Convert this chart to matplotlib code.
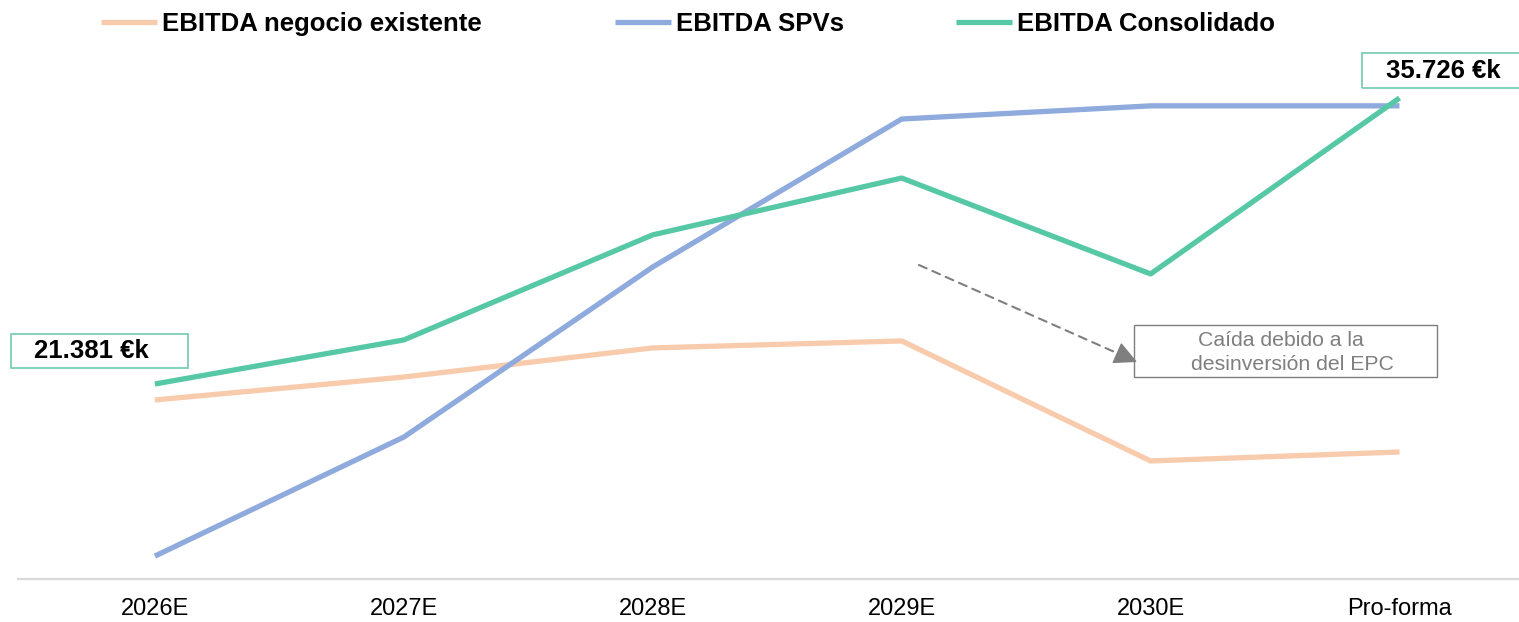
import matplotlib
matplotlib.use("Agg")
import matplotlib.pyplot as plt
from matplotlib.patches import Rectangle

plt.rcParams['font.family'] = ['Liberation Sans', 'DejaVu Sans']

# datos (miles de €)
categorias = ["2026E", "2027E", "2028E", "2029E", "2030E", "Pro-forma"]
existente = [20580, 21730, 23190, 23540, 17520, 17970]
spvs = [12750, 18720, 27250, 34670, 35330, 35330]
consolidado = [21381, 23590, 28860, 31710, 26900, 35726]
series = ["EBITDA negocio existente", "EBITDA SPVs", "EBITDA Consolidado"]
colores = ["#F8CBAD", "#8FAADC", "#56C8A6"]
etiqueta_ini = "21.381 €k"
etiqueta_fin = "35.726 €k"
nota = ["Caída debido a la", "desinversión del EPC"]

W, H = 1519, 622
fig = plt.figure(figsize=(W / 100, H / 100), dpi=100)
ax = fig.add_axes([18 / W, 43 / H, 1 - 18 / W, (579 - 60) / H])

x = range(len(categorias))
lineas = []
for vals, nombre, c in zip([existente, spvs, consolidado], series, colores):
    l, = ax.plot(x, vals, color=c, linewidth=3.8, label=nombre, solid_capstyle='butt')
    lineas.append(l)

ax.set_xlim(-0.55, 5.48)
ax.set_ylim(11600, 37630)
ax.set_xticks(list(x))
ax.set_xticklabels(categorias, fontsize=17)
ax.tick_params(axis='x', length=0, pad=14)
ax.set_yticks([])
for s in ['top', 'right', 'left']:
    ax.spines[s].set_visible(False)
ax.spines['bottom'].set_color('#D9D9D9')
ax.spines['bottom'].set_linewidth(1.6)

# leyenda: una entrada por posición
for l, x0 in zip(lineas, [101, 615, 956]):
    fig.legend(handles=[l], loc='center left', bbox_to_anchor=(x0 / W, 1 - 24 / H), frameon=False,
               prop={'weight': 'bold', 'size': 18.5}, handlelength=2.18, handletextpad=0.2,
               borderpad=0, borderaxespad=0)

# cajas de valores
fig.patches.append(Rectangle((11 / W, 1 - 368 / H), 177 / W, 34 / H, transform=fig.transFigure,
                             fill=False, edgecolor='#7DCDB9', linewidth=1.3))
fig.text(91 / W, 1 - 351 / H, etiqueta_ini, ha='center', va='center', fontsize=18.5, fontweight='bold')
fig.patches.append(Rectangle((1362 / W, 1 - 88 / H), 160 / W, 35 / H, transform=fig.transFigure,
                             fill=False, edgecolor='#7DCDB9', linewidth=1.3))
fig.text(1443 / W, 1 - 71 / H, etiqueta_fin, ha='center', va='center', fontsize=18.5, fontweight='bold')

# nota con flecha
fig.patches.append(Rectangle((1134 / W, 1 - 377 / H), 303 / W, 52 / H, transform=fig.transFigure,
                             fill=False, edgecolor='#7F7F7F', linewidth=1.0))
fig.text(1281 / W, 1 - 340 / H, nota[0], ha='center', va='center', fontsize=15.3, color='#7F7F7F')
fig.text(1292 / W, 1 - 364 / H, nota[1], ha='center', va='center', fontsize=15.3, color='#7F7F7F')

p0, p1 = (919, H - 265), (1137, H - 362)
dx, dy = p1[0] - p0[0], p1[1] - p0[1]
pm = (p1[0] - dx * 0.08, p1[1] - dy * 0.08)
ax.annotate('', xy=pm, xytext=p0, xycoords='figure pixels', textcoords='figure pixels',
            arrowprops=dict(arrowstyle='-', linestyle=(0, (4, 3)), color='#7F7F7F', lw=1.5,
                            shrinkA=0, shrinkB=0))
ax.annotate('', xy=p1, xytext=pm, xycoords='figure pixels', textcoords='figure pixels',
            arrowprops=dict(arrowstyle='-|>', color='#7F7F7F', lw=1.0,
                            mutation_scale=36, shrinkA=0, shrinkB=0))

fig.savefig("out.png", dpi=100)
